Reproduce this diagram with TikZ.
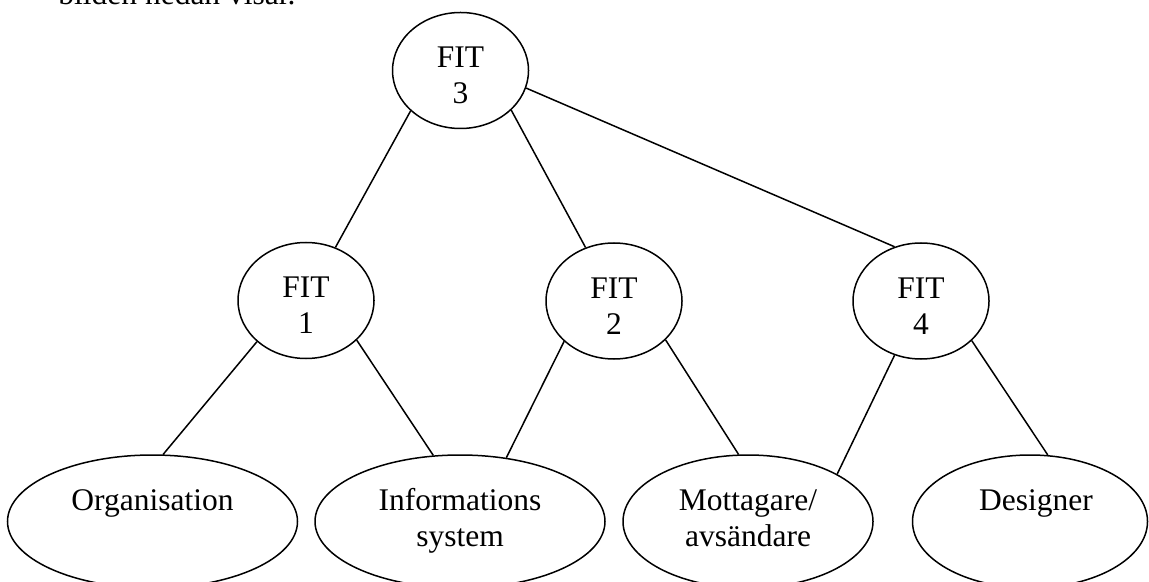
\documentclass[tikz,border=0pt]{standalone}
\usepackage{fontspec}
\setmainfont{Liberation Serif}
\usetikzlibrary{shapes.geometric}

\tikzset{
  oval/.style={ellipse, draw, line width=0.75pt, inner sep=0pt},
  fitoval/.style={oval, minimum width=68pt, minimum height=58pt},
  wideoval/.style={oval, minimum width=145pt, minimum height=66.5pt},
  narrowoval/.style={oval, minimum width=125pt, minimum height=66.5pt},
  txt/.style={font=\fontsize{15.75}{18}\selectfont, inner sep=0pt},
  fitlbl/.style={txt, yshift=-4pt},
  wire/.style={line width=0.75pt}
}

% two-line centred text block
\newcommand{\twolines}[2]{\begin{tabular}{@{}c@{}}#1\\#2\end{tabular}}

\begin{document}
\begin{tikzpicture}[x=0.5pt, y=-0.5pt]
  \path[use as bounding box, clip] (0,0) rectangle (1149,582);

  % running text above the figure
  \node[txt, anchor=base west] (intro) at (58,4.5) {bilden nedan visar.};

  % FIT levels
  \node[fitoval, label={[fitlbl]center:\twolines{FIT}{3}}] (fit3) at (460.5,70.5) {};
  \node[fitoval, label={[fitlbl]center:\twolines{FIT}{1}}] (fit1) at (306,300.5) {};
  \node[fitoval, label={[fitlbl]center:\twolines{FIT}{2}}] (fit2) at (614,301) {};
  \node[fitoval, label={[fitlbl]center:\twolines{FIT}{4}}] (fit4) at (921,301) {};

  % leaves
  \node[wideoval, label={[txt]center:\twolines{Organisation}{\mbox{}}}] (org) at (152.5,521.5) {};
  \node[wideoval, label={[txt]center:\twolines{Informations}{system}}] (info) at (460,521.5) {};
  \node[narrowoval, label={[txt]center:\twolines{Mottagare/}{avsändare}}] (mott) at (748,521.5) {};
  \node[oval, minimum width=117.5pt, minimum height=66.5pt,
        label={[txt, xshift=3pt]center:\twolines{Designer}{\mbox{}}}] (des) at (1030,521.5) {};

  % connectors
  \draw[wire] (fit3.-141) -- (fit1.61.6);
  \draw[wire] (fit3.-38.3) -- (fit2.118.1);
  \draw[wire] (fit3.-15.5) -- (fit4.116.6);
  \draw[wire] (fit1.-140.6) -- (org.81);
  \draw[wire] (fit1.-38.2) -- (info.112.1);
  \draw[wire] (fit2.-141.5) -- (info.54.2);
  \draw[wire] (fit2.-37.8) -- (mott.98.6);
  \draw[wire] (fit4.-116.2) -- (mott.28.9);
  \draw[wire] (fit4.-38.5) -- (des.75);
\end{tikzpicture}
\end{document}
